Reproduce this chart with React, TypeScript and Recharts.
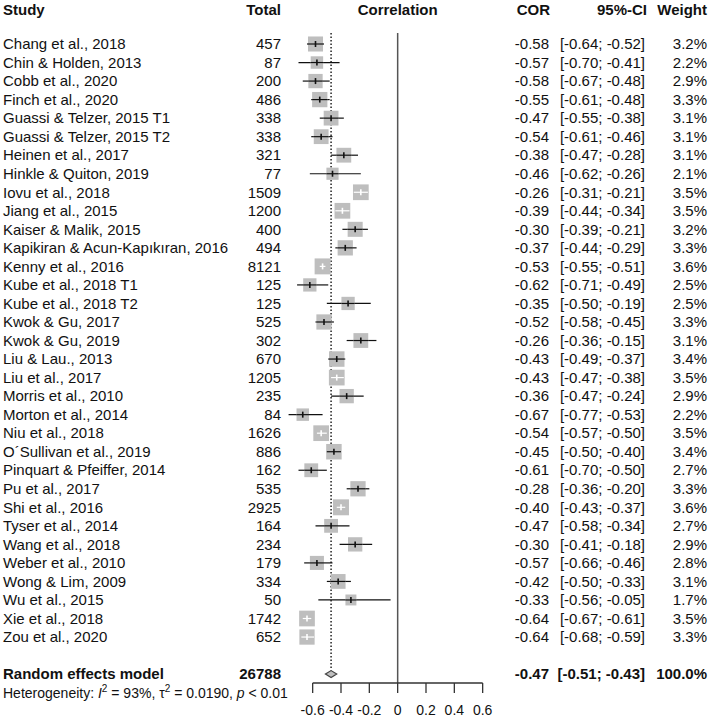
import React from 'react';
import { ScatterChart, Scatter, XAxis, YAxis, ErrorBar, ReferenceLine } from 'recharts';

const studies = [
  'Chang et al., 2018', 'Chin & Holden, 2013', 'Cobb et al., 2020', 'Finch et al., 2020',
  'Guassi & Telzer, 2015 T1', 'Guassi & Telzer, 2015 T2', 'Heinen et al., 2017', 'Hinkle & Quiton, 2019',
  'Iovu et al., 2018', 'Jiang et al., 2015', 'Kaiser & Malik, 2015', 'Kapikiran & Acun-Kapıkıran, 2016',
  'Kenny et al., 2016', 'Kube et al., 2018 T1', 'Kube et al., 2018 T2', 'Kwok & Gu, 2017',
  'Kwok & Gu, 2019', 'Liu & Lau., 2013', 'Liu et al.,  2017', 'Morris et al., 2010',
  'Morton et al., 2014', 'Niu et al., 2018', 'O´Sullivan et al., 2019', 'Pinquart & Pfeiffer, 2014',
  'Pu et al., 2017', 'Shi et al., 2016', 'Tyser et al., 2014', 'Wang et al., 2018',
  'Weber et al., 2010', 'Wong & Lim, 2009', 'Wu et al., 2015', 'Xie et al., 2018', 'Zou et al., 2020',
];
const totals = [457, 87, 200, 486, 338, 338, 321, 77, 1509, 1200, 400, 494, 8121, 125, 125, 525, 302, 670, 1205, 235, 84, 1626, 886, 162, 535, 2925, 164, 234, 179, 334, 50, 1742, 652];
const cors = [-0.58, -0.57, -0.58, -0.55, -0.47, -0.54, -0.38, -0.46, -0.26, -0.39, -0.30, -0.37, -0.53, -0.62, -0.35, -0.52, -0.26, -0.43, -0.43, -0.36, -0.67, -0.54, -0.45, -0.61, -0.28, -0.40, -0.47, -0.30, -0.57, -0.42, -0.33, -0.64, -0.64];
const ciLow = [-0.64, -0.70, -0.67, -0.61, -0.55, -0.61, -0.47, -0.62, -0.31, -0.44, -0.39, -0.44, -0.55, -0.71, -0.50, -0.58, -0.36, -0.49, -0.47, -0.47, -0.77, -0.57, -0.50, -0.70, -0.36, -0.43, -0.58, -0.41, -0.66, -0.50, -0.56, -0.67, -0.68];
const ciHigh = [-0.52, -0.41, -0.48, -0.48, -0.38, -0.46, -0.28, -0.26, -0.21, -0.34, -0.21, -0.29, -0.51, -0.49, -0.19, -0.45, -0.15, -0.37, -0.38, -0.24, -0.53, -0.50, -0.40, -0.50, -0.20, -0.37, -0.34, -0.18, -0.46, -0.33, -0.05, -0.61, -0.59];
const weights = [3.2, 2.2, 2.9, 3.3, 3.1, 3.1, 3.1, 2.1, 3.5, 3.5, 3.2, 3.3, 3.6, 2.5, 2.5, 3.3, 3.1, 3.4, 3.5, 2.9, 2.2, 3.5, 3.4, 2.7, 3.3, 3.6, 2.7, 2.9, 2.8, 3.1, 1.7, 3.5, 3.3];

const summary = { label: 'Random effects model', total: 26788, cor: -0.47, lo: -0.51, hi: -0.43, weight: 100.0 };
const xTicks = [-0.6, -0.4, -0.2, 0, 0.2, 0.4, 0.6];

const W = 709;
const H = 719;
const FONT = '"Liberation Sans", Arial, Helvetica, sans-serif';
const X_DOMAIN: [number, number] = [-1, 1];
const PLOT_LEFT = 256;
const PLOT_RIGHT = 539.33;
const PX_PER_UNIT = (PLOT_RIGHT - PLOT_LEFT) / (X_DOMAIN[1] - X_DOMAIN[0]);
const Y_MAX = 35.48;
const SUMMARY_ROW = studies.length + 2;
const LINE_TOP = 0.41;
const DIAMOND_HALF = 0.19;

const boxSide = (w: number) => 8.4 * Math.sqrt(w);

const rows = studies.map((name, i) => {
  const side = boxSide(weights[i]);
  return {
    x: cors[i],
    y: i + 1,
    name,
    total: totals[i],
    lo: ciLow[i],
    hi: ciHigh[i],
    weight: weights[i],
    side,
    // CI drawn in white when it sits within the box
    inside: (ciHigh[i] - ciLow[i]) * PX_PER_UNIT < side - 1.4,
    err: [cors[i] - ciLow[i], ciHigh[i] - cors[i]],
  };
});

const diamond = [
  { x: summary.lo, y: SUMMARY_ROW },
  { x: summary.cor, y: SUMMARY_ROW - DIAMOND_HALF },
  { x: summary.hi, y: SUMMARY_ROW },
  { x: summary.cor, y: SUMMARY_ROW + DIAMOND_HALF },
];

const rowTicks = [...rows.map((r) => r.y), SUMMARY_ROW];

const RowTick = (props: any) => {
  const { y, payload } = props;
  const r = rows.find((d) => d.y === payload.value);
  const bold = !r;
  const name = r ? r.name : summary.label;
  const total = r ? r.total : summary.total;
  const cor = r ? r.x : summary.cor;
  const lo = r ? r.lo : summary.lo;
  const hi = r ? r.hi : summary.hi;
  const w = r ? r.weight : summary.weight;
  const common = { y, dy: '0.35em', fill: '#111', fontFamily: FONT, fontSize: 15, fontWeight: bold ? 'bold' : 'normal' };
  return (
    <g>
      <text x={3} {...common}>{name}</text>
      <text x={281} textAnchor="end" {...common}>{total}</text>
      <text x={549} textAnchor="end" {...common}>{cor.toFixed(2)}</text>
      <text x={645} textAnchor="end" {...common}>{`[${lo.toFixed(2)}; ${hi.toFixed(2)}]`}</text>
      <text x={707} textAnchor="end" {...common}>{`${w.toFixed(1)}%`}</text>
    </g>
  );
};

const Box = (props: any) => {
  const { cx, cy, payload } = props;
  const s = payload.side;
  return <rect x={cx - s / 2} y={cy - s / 2} width={s} height={s} fill="#bebebe" />;
};

// part of the CI that lies over the box, plus the estimate tick
const makeMark = (color: string) => (props: any) => {
  const { cx, cy, payload } = props;
  const half = payload.side / 2;
  const x1 = Math.max(cx + (payload.lo - payload.x) * PX_PER_UNIT, cx - half);
  const x2 = Math.min(cx + (payload.hi - payload.x) * PX_PER_UNIT, cx + half);
  return (
    <g>
      <line x1={x1} x2={x2} y1={cy} y2={cy} stroke={color} strokeWidth={1.2} />
      <line x1={cx} x2={cx} y1={cy - 3} y2={cy + 3} stroke={color} strokeWidth={1.6} />
    </g>
  );
};

const Empty = () => <g />;

const DiamondShape = (props: any) => {
  const pts = (props.points || []).map((p: any) => `${p.x},${p.y}`).join(' ');
  return <polygon points={pts} fill="#bebebe" stroke="#444" strokeWidth={1.2} />;
};

const headerStyle = { fill: '#111', fontFamily: FONT, fontSize: 15, fontWeight: 'bold' as const };

export default function App() {
  return (
    <div style={{ position: 'absolute', left: 0, top: 0, width: W, height: H, background: '#fff' }}>
      <ScatterChart
        width={W}
        height={H}
        margin={{ top: 25.47, right: W - PLOT_RIGHT, bottom: 0, left: PLOT_LEFT - 60 }}
      >
        <XAxis
          type="number"
          dataKey="x"
          domain={X_DOMAIN}
          ticks={xTicks}
          interval={0}
          height={36}
          axisLine={false}
          tickSize={10}
          tickMargin={12}
          tickLine={{ stroke: '#333', strokeWidth: 1.3 }}
          tick={{ fill: '#111', fontSize: 14, fontFamily: FONT }}
          tickFormatter={(v: number) => (v === 0 ? '0' : v.toFixed(1))}
        />
        <YAxis
          type="number"
          dataKey="y"
          domain={[0, Y_MAX]}
          reversed
          width={60}
          ticks={rowTicks}
          interval={0}
          axisLine={false}
          tickLine={false}
          tick={RowTick}
        />
        <ReferenceLine
          segment={[{ x: 0, y: LINE_TOP }, { x: 0, y: Y_MAX }]}
          stroke="#555"
          strokeWidth={1.5}
        />
        <ReferenceLine
          segment={[{ x: xTicks[0], y: Y_MAX }, { x: xTicks[xTicks.length - 1], y: Y_MAX }]}
          stroke="#333"
          strokeWidth={1.3}
        />
        <Scatter data={rows} shape={Box} isAnimationActive={false} />
        <ReferenceLine
          segment={[{ x: summary.cor, y: LINE_TOP }, { x: summary.cor, y: SUMMARY_ROW - DIAMOND_HALF }]}
          stroke="#222"
          strokeWidth={1.5}
          strokeDasharray="1.5 2"
        />
        <Scatter data={rows.filter((r) => !r.inside)} shape={makeMark('#111')} isAnimationActive={false}>
          <ErrorBar dataKey="err" direction="x" width={0} stroke="#111" strokeWidth={1.2} />
        </Scatter>
        <Scatter data={rows.filter((r) => r.inside)} shape={makeMark('#fff')} isAnimationActive={false} />
        <Scatter data={diamond} shape={Empty} line={DiamondShape} isAnimationActive={false} />
        <text x={3} y={10} dy="0.35em" {...headerStyle}>Study</text>
        <text x={281} y={10} dy="0.35em" textAnchor="end" {...headerStyle}>Total</text>
        <text x={397.7} y={10} dy="0.35em" textAnchor="middle" {...headerStyle}>Correlation</text>
        <text x={550} y={10} dy="0.35em" textAnchor="end" {...headerStyle}>COR</text>
        <text x={647} y={10} dy="0.35em" textAnchor="end" {...headerStyle}>95%-CI</text>
        <text x={707} y={10} dy="0.35em" textAnchor="end" {...headerStyle}>Weight</text>
        <text x={3} y={693} dy="0.35em" fill="#111" fontFamily={FONT} fontSize={14}>
          Heterogeneity: <tspan fontStyle="italic">I</tspan>
          <tspan dy={-6} fontSize={10}>2</tspan>
          <tspan dy={6}> = 93%, τ</tspan>
          <tspan dy={-6} fontSize={10}>2</tspan>
          <tspan dy={6}> = 0.0190, </tspan>
          <tspan fontStyle="italic">p</tspan> &lt; 0.01
        </text>
      </ScatterChart>
    </div>
  );
}
